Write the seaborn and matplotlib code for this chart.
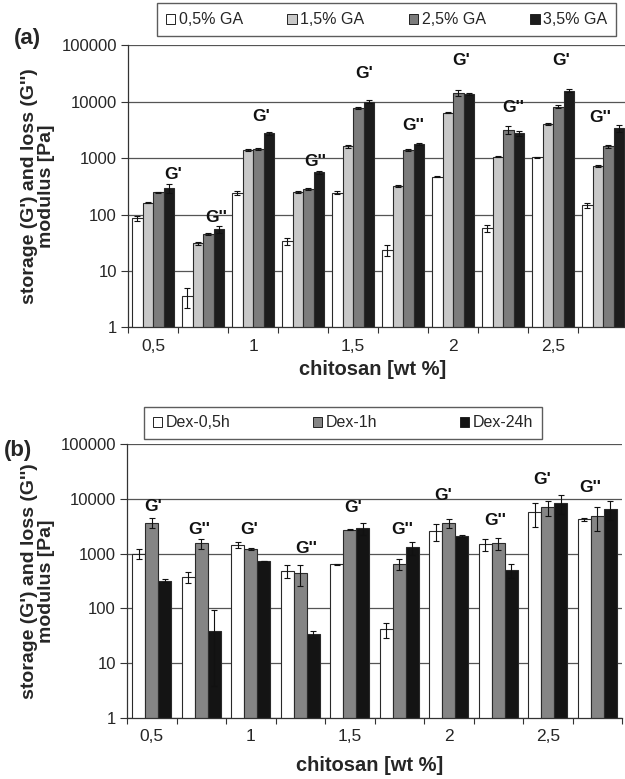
import numpy as np
import pandas as pd
import matplotlib.pyplot as plt
import seaborn as sns
from matplotlib.patches import Patch
from matplotlib.ticker import NullLocator

# Cau hinh giao dien
sns.set_theme(style="white")
plt.rcParams['font.family'] = ['Liberation Sans', 'DejaVu Sans']

# ---- du lieu ----
chitosan_labels = ["0,5", "1", "1,5", "2", "2,5"]
moduli = ["G'", "G''"]
groups = [f"{m} {c}" for c in chitosan_labels for m in moduli]

# (a) GA
ga_levels = ["0,5% GA", "1,5% GA", "2,5% GA", "3,5% GA"]
ga_05 = [86, 3.6, 237, 34, 243, 23.5, 467, 57, 1028, 147]
ga_15 = [162, 31, 1386, 253, 1631, 319, 6340, 1054, 4000, 721]
ga_25 = [247, 45, 1443, 286, 7770, 1386, 14300, 3130, 8090, 1631]
ga_35 = [291, 55, 2735, 558, 9930, 1770, 13580, 2735, 15500, 3350]
ga_05_err = [8, 1.4, 20, 5, 15, 5, 10, 8, 20, 15]
ga_15_err = [5, 2, 50, 10, 100, 10, 200, 30, 200, 30]
ga_25_err = [8, 2, 40, 10, 300, 60, 2000, 500, 500, 100]
ga_35_err = [55, 8, 150, 30, 500, 100, 600, 300, 1000, 500]

# (b) Dex
dex_levels = ["Dex-0,5h", "Dex-1h", "Dex-24h"]
dex_05 = [990, 381, 1445, 484, 641, 41.7, 2605, 1507, 5720, 4260]
dex_1 = [3690, 1550, 1205, 440, 2715, 650, 3600, 1550, 7050, 4890]
dex_24 = [318, 38, 747, 34, 2920, 1312, 2110, 505, 8560, 6490]
dex_05_err = [200, 85, 160, 125, 10, 13, 900, 370, 2700, 300]
dex_1_err = [800, 330, 60, 180, 50, 150, 700, 370, 2100, 2250]
dex_24_err = [20, 55, 0, 5, 700, 350, 100, 145, 3200, 2450]

ga_colors = ["#ffffff", "#c8c8c8", "#7c7c7c", "#1c1c1c"]
dex_colors = ["#ffffff", "#858585", "#141414"]

# vi tri chu G', G'' (chi so nhom, gia tri y)
tag_a_x = [0.4, 1.27, 2.17, 3.24, 4.23, 5.2, 6.17, 7.2, 8.17, 8.94]
tag_a_y = [521, 87, 5400, 860, 30700, 3840, 52700, 7680, 52700, 5320]
tag_b_x = [0.03, 0.96, 1.96, 3.13, 4.07, 5.05, 5.89, 6.93, 7.88, 8.85]
tag_b_y = [7230, 2800, 2800, 1260, 7050, 2800, 11350, 4020, 22200, 16400]


def long_table(levels, series, errors):
	rows = []
	for lev, vals, errs in zip(levels, series, errors):
		for g, v, e in zip(groups, vals, errs):
			rows.append({"group": g, "series": lev, "value": v, "err": e})
	return pd.DataFrame(rows)


def draw_panel(ax, df, levels, colors, width, tag_x, tag_y, legend_box):
	sns.barplot(data=df, x="group", y="value", hue="series", order=groups,
				hue_order=levels, palette=colors, width=width, saturation=1,
				edgecolor="#2a2a2a", linewidth=0.8, errorbar=None,
				legend=False, ax=ax)
	ax.set_yscale("log")

	# thanh sai so
	for cont, lev in zip(ax.containers, levels):
		sub = df[df["series"] == lev].set_index("group").loc[groups]
		xs = [r.get_x() + r.get_width() / 2 for r in cont]
		vals = sub["value"].to_numpy()
		errs = sub["err"].to_numpy()
		lower = np.minimum(errs, 0.9 * vals)
		ax.errorbar(xs, vals, yerr=[lower, errs], fmt="none", ecolor="#111111",
					elinewidth=0.8, capsize=2.5, capthick=0.8, zorder=3)

	ax.set_ylim(1, 100000)
	ax.set_xlim(-0.5, 9.5)
	ax.set_yticks([1, 10, 100, 1000, 10000, 100000])
	ax.set_yticklabels(["1", "10", "100", "1000", "10000", "100000"])
	ax.yaxis.set_minor_locator(NullLocator())
	ax.set_xticks([0, 2, 4, 6, 8])
	ax.set_xticklabels(chitosan_labels)
	ax.set_xticks(np.arange(-0.5, 10, 1), minor=True)
	ax.tick_params(axis="x", which="major", bottom=True, length=0, pad=8, labelsize=12.5)
	ax.tick_params(axis="x", which="minor", bottom=True, length=4, width=0.8,
				   color="#333333")
	ax.tick_params(axis="y", which="major", left=True, length=5, width=0.8,
				   color="#333333", labelsize=12, pad=3)

	ax.grid(axis="y", color="#555555", linewidth=0.9)
	ax.set_axisbelow(True)
	for side in ["top", "right"]:
		ax.spines[side].set_visible(False)
	for side in ["left", "bottom"]:
		ax.spines[side].set_color("#333333")
		ax.spines[side].set_linewidth(0.9)

	for tx, ty, m in zip(tag_x, tag_y, moduli * 5):
		ax.text(tx, ty, m, ha="center", va="center", fontsize=12.5,
				fontweight="bold", color="#111111", zorder=4)

	ax.set_xlabel("chitosan [wt %]", fontsize=14.5, fontweight="bold")
	ax.set_ylabel("storage (G') and loss (G'')\nmodulus [Pa]", fontsize=14,
				  fontweight="bold", linespacing=1.0)

	handles = [Patch(facecolor=c, edgecolor="#222222", linewidth=0.7) for c in colors]
	leg = ax.legend(handles, levels, loc="lower left", bbox_to_anchor=legend_box,
					mode="expand", ncol=len(levels), frameon=True, fancybox=False,
					edgecolor="#333333", fontsize=11.5, handlelength=0.6,
					handleheight=0.6, handletextpad=0.2, borderpad=0.55,
					borderaxespad=0)
	leg.get_frame().set_linewidth(1.0)


fig = plt.figure(figsize=(6.25, 7.79), dpi=100)

ax_a = fig.add_axes([0.2048, 0.5796, 0.80, 0.3626])
df_a = long_table(ga_levels, [ga_05, ga_15, ga_25, ga_35],
				  [ga_05_err, ga_15_err, ga_25_err, ga_35_err])
draw_panel(ax_a, df_a, ga_levels, ga_colors, 0.84, tag_a_x, tag_a_y,
		   (0.058, 1.032, 0.918, 0.11))
ax_a.yaxis.set_label_coords(-0.145, 0.5)
ax_a.xaxis.set_label_coords(0.49, -0.115)

ax_b = fig.add_axes([0.2032, 0.0783, 0.792, 0.3517])
df_b = long_table(dex_levels, [dex_05, dex_1, dex_24],
				  [dex_05_err, dex_1_err, dex_24_err])
draw_panel(ax_b, df_b, dex_levels, dex_colors, 0.78, tag_b_x, tag_b_y,
		   (0.034, 1.018, 0.804, 0.10))
ax_b.yaxis.set_label_coords(-0.145, 0.5)
ax_b.xaxis.set_label_coords(0.49, -0.14)

fig.text(0.022, 0.950, "(a)", fontsize=16, fontweight="bold", va="center")
fig.text(0.006, 0.422, "(b)", fontsize=16, fontweight="bold", va="center")

fig.savefig("out.png", dpi=100)
